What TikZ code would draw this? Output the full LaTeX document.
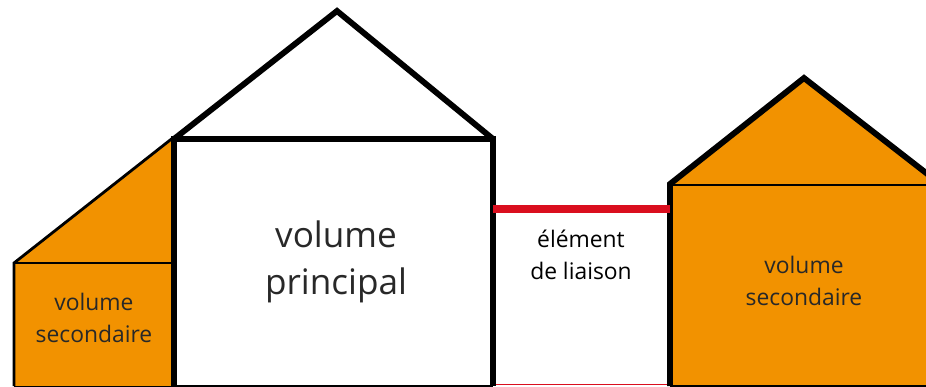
\documentclass[tikz,border=0pt]{standalone}
\usepackage{fontspec}
\setmainfont{Open Sans}
\definecolor{volorange}{RGB}{242,146,0}
\definecolor{liaisonred}{RGB}{218,14,30}
\definecolor{labelgrey}{RGB}{40,40,40}
\tikzset{
 wallthick/.style={black, line width=5pt, line join=miter},
 wallthin/.style={black, line width=2.4pt},
 labelsmall/.style={text=labelgrey, align=center, font=\fontsize{19.5}{27.5}\selectfont, inner sep=0},
 labelbig/.style={text=labelgrey, align=center, font=\fontsize{30}{39.5}\selectfont, inner sep=0}
}
\begin{document}
\begin{tikzpicture} [x=.03cm, y=.03cm]
\useasboundingbox (0,0) rectangle (926,386);
\coordinate (mainSW) at (174,0);
\coordinate (mainSE) at (493,0);
\coordinate (mainNW) at (174,247);
\coordinate (mainNE) at (493,247);
\coordinate (mainTop) at (337,375);
\coordinate (leftSW) at (14,0);
\coordinate (leftW) at (14,123);
\coordinate (leftE) at (174,123);
\coordinate (leftTop) at (174,249);
\coordinate (rightSW) at (670,0);
\coordinate (rightNW) at (670,202);
\coordinate (rightTop) at (804,308);
\coordinate (rightEave) at (930,210);
\coordinate (rightBeam) at (930,201);
\coordinate (rightSE) at (930,0);
% orange volumes
\fill[volorange] (leftSW)--(leftW)--(leftTop)--(mainSW)--cycle;
\fill[volorange] (rightSW)--(rightNW)--(rightTop)--(rightEave)--(rightSE)--cycle;
% left volume
\draw[wallthin] (leftSW)--(leftW)--(leftTop);
\draw[wallthin, line width=1.6pt] (leftW)--(leftE);
\draw[black, line width=.8pt] (leftSW)--(mainSW);
% right volume
\draw[wallthin] (rightNW |- rightBeam)--(rightBeam);
\draw[wallthick] (rightSW)--(rightNW)--(rightTop)--(rightEave);
% main volume
\draw[wallthick] (mainSW)--(mainNW)--(mainNE)--(mainSE);
\draw[wallthick] (mainNW)--(mainTop)--(mainNE);
\draw[black, line width=2.4pt] (mainSW)--(mainSE);
\draw[black, line width=2.4pt] (rightSW)--(rightSE);
% link
\draw[liaisonred, line width=6pt] (mainNE |- 0,177)--(rightNW |- 0,177);
\draw[liaisonred, line width=1pt] (496,1.4)--(667,1.4);
% labels
\node[labelbig] (mainLabel) at (336,124) {volume\\principal};
\node[labelsmall] (leftLabel) at (94,68) {volume\\secondaire};
\node[labelsmall] (rightLabel) at (804,105) {volume\\secondaire};
\node[labelsmall, text=black] (linkLabel) at (581,131) {élément\\de liaison};
\end{tikzpicture}
\end{document}
